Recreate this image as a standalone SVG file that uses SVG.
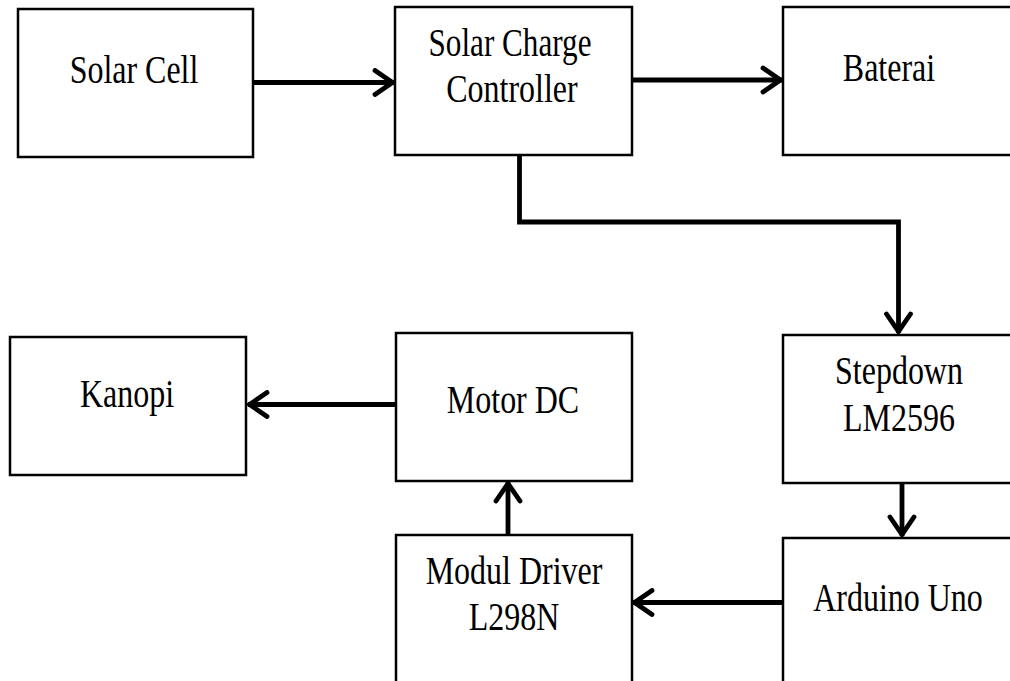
<svg xmlns="http://www.w3.org/2000/svg" width="1010" height="681" viewBox="0 0 1010 681">
<defs>
<style>
.box{fill:#fff;stroke:#000;stroke-width:2.5}
.lbl{font-family:"Liberation Serif","Times New Roman",serif;font-size:41px;fill:#000;text-anchor:middle}
.con{fill:none;stroke:#000;stroke-width:4.8;stroke-linejoin:miter}
</style>
<marker id="arr" markerUnits="userSpaceOnUse" markerWidth="30" markerHeight="30" viewBox="-25 -15 30 30" refX="0" refY="0" orient="auto">
<path d="M-19,-12 L-1.5,0 L-19,12" fill="none" stroke="#000" stroke-width="4.8" stroke-linecap="round" stroke-linejoin="miter"/>
</marker>
</defs>
<rect width="1010" height="681" fill="#fff"/>
<g id="connectors">
<path class="con" d="M253,82.5 H394" marker-end="url(#arr)"/>
<path class="con" d="M632,80 H782" marker-end="url(#arr)"/>
<path class="con" d="M519.5,155 V222 H898.5 V333" marker-end="url(#arr)"/>
<path class="con" d="M902,483 V536" marker-end="url(#arr)"/>
<path class="con" d="M783,602.5 H633" marker-end="url(#arr)"/>
<path class="con" d="M508,535 V482" marker-end="url(#arr)"/>
<path class="con" d="M396,404.5 H248" marker-end="url(#arr)"/>
</g>
<g id="solar-cell">
<rect class="box" x="18" y="9" width="235" height="148"/>
<text class="lbl" transform="translate(134,83) scale(0.78,1)">Solar Cell</text>
</g>
<g id="solar-charge-controller">
<rect class="box" x="395" y="7" width="237" height="148"/>
<text class="lbl" transform="translate(510,56) scale(0.76,1)">Solar Charge</text>
<text class="lbl" transform="translate(512,102) scale(0.78,1)">Controller</text>
</g>
<g id="baterai">
<rect class="box" x="783" y="7" width="240" height="148"/>
<text class="lbl" transform="translate(889,81) scale(0.78,1)">Baterai</text>
</g>
<g id="kanopi">
<rect class="box" x="10" y="337" width="236" height="138"/>
<text class="lbl" transform="translate(127,407) scale(0.78,1)">Kanopi</text>
</g>
<g id="motor-dc">
<rect class="box" x="396" y="333" width="236" height="148"/>
<text class="lbl" transform="translate(513,413) scale(0.78,1)">Motor DC</text>
</g>
<g id="stepdown">
<rect class="box" x="783" y="335" width="240" height="148"/>
<text class="lbl" transform="translate(899,384) scale(0.78,1)">Stepdown</text>
<text class="lbl" transform="translate(899,431) scale(0.78,1)">LM2596</text>
</g>
<g id="modul-driver">
<rect class="box" x="396" y="535" width="236" height="160"/>
<text class="lbl" transform="translate(514,584) scale(0.78,1)">Modul Driver</text>
<text class="lbl" transform="translate(514,630) scale(0.78,1)">L298N</text>
</g>
<g id="arduino-uno">
<rect class="box" x="783" y="538" width="240" height="160"/>
<text class="lbl" transform="translate(898,611) scale(0.78,1)">Arduino Uno</text>
</g>
</svg>
